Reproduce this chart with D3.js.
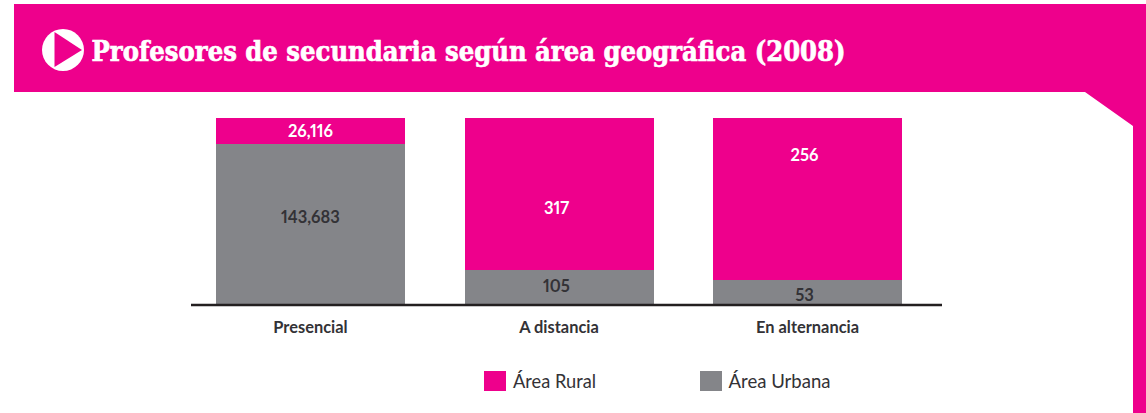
<!DOCTYPE html>
<html><head><meta charset="utf-8">
<script src="https://cdn.jsdelivr.net/npm/d3@7"></script>
<style>html,body{margin:0;padding:0;background:#fff}svg{display:block}</style>
</head><body><svg id="c" width="1146" height="413"></svg>
<script>
// Data
const title = "Profesores de secundaria según área geográfica (2008)";
const categories = ["Presencial", "A distancia", "En alternancia"];
const ruralLabels = ["26,116", "317", "256"];
const urbanLabels = ["143,683", "105", "53"];
// Drawn segment shares (the original is not to scale with its labels)
const ruralShare = [14, 81.8, 87];
const urbanShare = [86, 18.2, 13];
const seriesNames = ["Área Rural", "Área Urbana"];
const colors = ["#ee008c", "#848589"];

const svg = d3.select("#c");
const PINK = colors[0], GREY = colors[1], INK = "#333236";
const FONT = "Lato, 'Open Sans', sans-serif";

// Frame
svg.append("path").attr("fill", PINK)
  .attr("d", "M14,4H1146V413H1133V126L1085,92H14Z");

// Title icon
svg.append("circle").attr("cx", 63).attr("cy", 50).attr("r", 21).attr("fill", "#fff");
svg.append("path").attr("d", "M54.5,32L82,50L54.5,67Z").attr("fill", PINK);
svg.append("text").attr("x", 91.5).attr("y", 61).attr("fill", "#fff")
  .attr("stroke", "#fff").attr("stroke-width", 0.7)
  .attr("font-family", "'DejaVu Serif', serif").attr("font-weight", 700)
  .attr("font-size", 27).attr("textLength", 754).attr("lengthAdjust", "spacingAndGlyphs")
  .text(title);

// Scales
const x = d3.scaleBand().domain(categories).range([216, 902]).paddingInner(0.24).paddingOuter(0);
const y = d3.scaleLinear().domain([0, 100]).range([304, 118]);

const rows = categories.map((c, i) => ({c, i, urban: urbanShare[i], rural: ruralShare[i]}));
const stack = d3.stack().keys(["urban", "rural"])(rows);
const segColor = {urban: GREY, rural: PINK};

svg.selectAll("g.s").data(stack).join("g").attr("class", "s")
  .attr("fill", d => segColor[d.key])
  .selectAll("rect").data(d => d).join("rect")
  .attr("x", d => Math.round(x(d.data.c))).attr("width", Math.round(x.bandwidth()))
  .attr("y", d => Math.round(y(d[1]))).attr("height", d => Math.round(y(d[0])) - Math.round(y(d[1])));

// Value labels: the original places them off-centre, so each has a nudge from the segment centre
const ruralLift = [0, -14, 44];
const urbanLift = [7, 1, -3];
const labelShift = [0, -2.5, -3];
function valueLabels(texts, low, high, fill, lift) {
  svg.append("g").selectAll("text").data(texts).join("text")
    .attr("x", (d, i) => x(categories[i]) + x.bandwidth() / 2 + labelShift[i])
    .attr("y", (d, i) => (y(low(i)) + y(high(i))) / 2 - lift[i])
    .attr("dy", "0.36em").attr("text-anchor", "middle")
    .attr("font-family", FONT).attr("font-weight", 700).attr("font-size", 16.5)
    .style("font-variant-numeric", "proportional-nums")
    .attr("fill", fill).text(d => d);
}
valueLabels(ruralLabels, i => urbanShare[i], i => urbanShare[i] + ruralShare[i], "#fff", ruralLift);
valueLabels(urbanLabels, i => 0, i => urbanShare[i], INK, urbanLift);

// Axis
const axis = svg.append("g").attr("transform", "translate(0,304)")
  .call(d3.axisBottom(x).tickSize(0).tickPadding(17));
axis.select(".domain").remove();
axis.selectAll("text").attr("font-family", FONT).attr("font-weight", 700)
  .attr("font-size", 16.4).attr("fill", INK);
svg.append("line").attr("x1", 191).attr("x2", 942).attr("y1", 305).attr("y2", 305)
  .attr("stroke", "#231f20").attr("stroke-width", 2.4);

// Legend
const legendX = [484, 700];
const legendLen = [83, 102];
const lg = svg.append("g").selectAll("g").data(seriesNames).join("g")
  .attr("transform", (d, i) => `translate(${legendX[i]},371)`);
lg.append("rect").attr("width", 22).attr("height", 20).attr("fill", (d, i) => colors[i]);
lg.append("text").attr("x", (d, i) => i ? 28.5 : 29).attr("y", 17)
  .attr("font-family", FONT).attr("font-size", 20).attr("fill", INK)
  .attr("textLength", (d, i) => legendLen[i]).attr("lengthAdjust", "spacingAndGlyphs").text(d => d);
</script></body></html>
